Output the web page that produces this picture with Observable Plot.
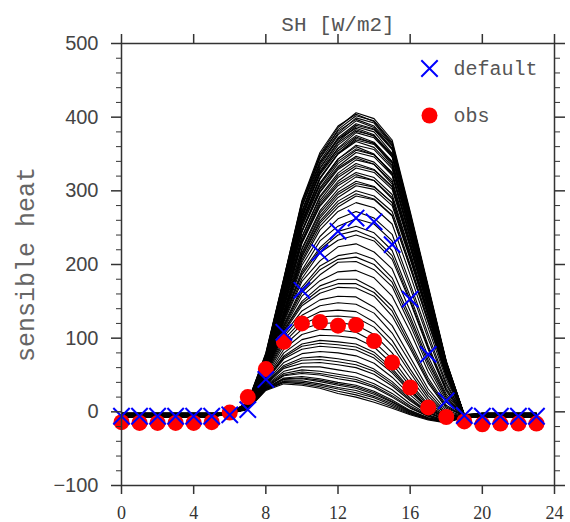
<!DOCTYPE html>
<html>
<head>
<meta charset="utf-8">
<script src="https://cdn.jsdelivr.net/npm/d3@7"></script>
<script src="https://cdn.jsdelivr.net/npm/@observablehq/plot@0.6"></script>
<style>
  html, body { margin: 0; padding: 0; background: #fff; }
  #chart svg { display: block; }
</style>
</head>
<body>
<div id="chart"></div>
<script>
// ---- data ----
const hours = [0,1,2,3,4,5,6,7,8,9,10,11,12,13,14,15,16,17,18,19,20,21,22,23];
const defaultSH = [-6,-6,-6,-6,-6,-6,-4,3,44,108,165,216,245,263,258,227,153,78,15,-5,-6,-6,-6,-6];
const obsSH = [-14,-15,-15,-15,-15,-14,-1,20,58,95,120,122,117,118,96,67,33,6,-7,-13,-17,-16,-16,-16];

// ensemble members: night level (hours 0-5, 20-23)
const memberNight = [-3,-4,-2,-5,-3,-6,-4,-2,-5,-3,-4,-6,-2,-5,-3,-4,-7,-2,-5,-3,-4,-6,-3,-5,-2,-4,-6,-3,-5,-4,-2,-6,-3,-5,-4,-7,-3,-5,-4,-6,-5,-6,-4,-7,-5,-6,-5,-7,-6,-5,-6,-7,-6,-7,-6,-7,
  -4,-5,-3,-6,-2,-5,-4,-3,-6,-5,-4,-6,-3,-5,-4,-6,-5,-7,-6,-5,-6];
// ensemble members: hours 6..19
const memberDay = [
  [-2,12,77,179,284,349,386,406,398,369,272,171,69,-4],
  [-2,13,79,180,283,345,383,402,395,366,270,168,66,-5],
  [-1,11,74,174,279,344,378,399,392,362,268,169,68,-4],
  [-2,12,75,176,278,340,376,395,386,358,264,165,66,-5],
  [-3,12,73,170,273,337,372,391,384,357,263,165,67,-5],
  [-2,12,75,171,272,331,367,387,380,351,258,162,64,-4],
  [-2,11,72,168,267,330,365,383,374,348,258,162,66,-6],
  [-1,11,73,168,266,325,358,379,372,346,253,158,63,-5],
  [-2,11,70,164,262,324,357,375,366,340,250,157,64,-5],
  [-3,10,71,165,259,318,351,371,365,339,250,157,62,-4],
  [-2,11,69,160,258,317,350,367,359,333,245,153,61,-6],
  [-2,11,70,160,252,310,343,362,356,330,244,153,63,-5],
  [-2,10,67,156,251,308,340,357,349,324,238,149,60,-5],
  [-1,11,68,156,245,302,333,352,346,321,237,149,61,-4],
  [-2,10,65,152,244,299,331,347,339,315,231,145,58,-6],
  [-2,10,66,151,238,293,324,342,336,312,230,145,59,-5],
  [-3,10,63,147,237,291,321,337,329,306,225,141,56,-5],
  [-2,10,64,147,231,284,313,331,325,302,223,140,57,-4],
  [-2,9,61,142,229,281,310,325,318,295,217,136,54,-6],
  [-2,10,62,141,222,273,302,319,314,291,215,135,55,-5],
  [-1,9,58,137,220,270,298,313,306,284,209,130,52,-5],
  [-2,9,59,136,214,263,291,307,302,280,207,130,53,-4],
  [-2,9,56,131,211,259,286,300,293,272,200,125,50,-6],
  [-3,9,58,133,206,252,278,293,288,266,196,121,49,-5],
  [-2,9,58,131,203,247,272,284,277,255,186,114,44,-5],
  [-2,9,59,129,199,238,262,272,263,241,174,105,39,-6],
  [-2,9,57,128,192,232,252,262,255,232,168,99,36,-5],
  [-1,9,58,127,189,223,245,252,243,219,157,90,32,-5],
  [-2,9,56,124,181,216,233,240,232,207,149,85,28,-6],
  [-2,9,57,122,177,205,224,228,217,194,137,75,24,-5],
  [-2,8,56,119,169,198,212,216,207,182,129,70,21,-6],
  [-2,8,54,115,162,186,203,204,193,170,118,61,16,-5],
  [-2,8,55,113,157,178,190,192,182,157,109,54,13,-6],
  [-2,8,55,111,150,171,180,180,167,143,95,46,9,-6],
  [-2,8,55,108,144,161,169,168,157,130,86,39,5,-5],
  [-2,8,54,105,137,152,157,156,142,117,74,31,2,-6],
  [-2,7,53,102,131,144,148,146,134,107,67,26,-1,-6],
  [-2,7,52,98,124,136,138,136,122,97,58,22,-3,-7],
  [-2,7,51,94,119,129,130,128,115,90,53,18,-4,-6],
  [-2,7,49,90,112,120,121,118,105,80,46,14,-6,-7],
  [-2,6,47,85,105,112,111,108,95,72,39,10,-7,-6],
  [-2,6,45,80,98,104,103,100,88,65,35,8,-8,-7],
  [-2,6,43,76,92,97,95,92,81,59,31,6,-9,-7],
  [-2,6,42,72,85,89,87,84,73,53,27,4,-9,-6],
  [-2,5,40,67,79,82,80,76,66,47,23,2,-10,-7],
  [-2,5,39,63,73,75,72,68,58,41,19,0,-11,-7],
  [-2,5,37,59,66,67,64,60,51,35,15,-2,-11,-6],
  [-2,5,36,55,61,61,57,53,44,30,11,-4,-12,-7],
  [-2,5,35,52,57,55,51,47,38,25,8,-5,-12,-7],
  [-2,4,33,49,52,50,45,41,33,20,5,-6,-13,-7],
  [-2,4,32,46,48,45,40,36,28,16,2,-8,-13,-7],
  [-2,4,31,44,45,41,36,32,24,13,0,-9,-14,-7],
  [-2,4,31,42,42,38,33,29,21,11,-1,-9,-14,-6],
  [-2,4,30,41,40,36,31,26,19,9,-2,-10,-14,-7],
  [-2,4,30,40,38,34,28,23,16,7,-3,-10,-14,-7],
  [-2,3,29,38,36,32,25,20,13,5,-4,-11,-15,-7],
  [-2,12,78,181,287,352,388,404,394,364,268,168,67,-5],
  [-2,13,80,182,285,348,381,397,388,361,262,163,64,-4],
  [-2,11,72,168,270,334,370,389,383,356,262,165,68,-5],
  [-1,12,76,176,279,338,370,385,376,346,253,158,62,-5],
  [-2,11,71,165,263,327,362,381,375,350,259,163,67,-4],
  [-2,12,74,170,266,322,354,373,364,335,246,154,61,-5],
  [-2,10,68,158,255,316,350,369,363,338,249,156,63,-6],
  [-2,11,71,162,256,311,343,360,350,322,236,147,58,-5],
  [-3,10,66,153,246,304,337,355,349,325,240,151,62,-5],
  [-2,11,68,156,245,298,329,345,336,309,226,141,56,-4],
  [-2,10,62,145,233,287,318,334,328,305,225,142,58,-5],
  [-2,10,63,145,229,279,307,322,314,289,211,132,52,-5],
  [-2,9,57,134,216,266,295,310,305,284,210,132,54,-6],
  [-2,9,58,134,210,256,282,296,289,267,196,122,48,-5],
  [-2,6,43,74,89,93,91,88,77,56,29,5,-9,-7],
  [-2,5,38,61,70,71,68,64,55,38,17,-1,-11,-7],
  [-2,5,34,50,54,52,48,44,35,22,6,-6,-13,-7],
  [-2,4,32,45,46,43,38,34,26,14,1,-8,-13,-7],
  [-2,9,58,126,186,220,240,246,236,212,152,87,30,-5],
  [-2,8,55,117,166,193,207,210,200,176,124,66,19,-6],
  [-2,8,55,110,147,166,174,174,162,137,90,42,7,-6]
];

const xTicks = [0,4,8,12,16,20,24];
const yTicks = [-100,0,100,200,300,400,500];
const yMinor = [-80,-60,-40,-20,20,40,60,80,120,140,160,180,220,240,260,280,320,340,360,380,420,440,460,480];
const titleText = "SH [W/m2]";
const yLabel = "sensible heat";
const legendLabels = ["default", "obs"];

// ---- build table ----
const ensemble = [];
memberDay.forEach((row, i) => {
  hours.forEach(h => {
    ensemble.push({member: i, hour: h, value: (h >= 6 && h <= 19) ? row[h - 6] : memberNight[i]});
  });
});
const points = hours.map((h, i) => ({hour: h, def: defaultSH[i], obs: obsSH[i]}));

const axisColor = "#333";
const mono = "'Liberation Mono', 'DejaVu Sans Mono', monospace";
const blank = () => "";

const chart = Plot.plot({
  width: 570,
  height: 522,
  marginTop: 43,
  marginLeft: 121,
  marginRight: 16,
  marginBottom: 37,
  x: {domain: [0, 24]},
  y: {domain: [-100, 500]},
  style: {background: "white"},
  marks: [
    Plot.lineY(ensemble, {x: "hour", y: "value", z: "member", stroke: "black", strokeWidth: 1.1}),
    Plot.dot(points, {x: "hour", y: "obs", r: 8, fill: "#ff0000"}),
    Plot.dot(points, {x: "hour", y: "def", symbol: "times", r: 7.5, stroke: "#0000ff", strokeWidth: 2}),
    Plot.frame({stroke: axisColor, strokeWidth: 1.5}),
    // left axis
    Plot.axisY(yTicks, {anchor: "left", tickSize: 10, tickPadding: 13, fontSize: 20, fontFamily: "'Liberation Sans', Arial, sans-serif", color: axisColor, fill: "#444", strokeWidth: 1.5, label: null}),
    Plot.axisY(yMinor, {anchor: "left", tickSize: 5, tickFormat: blank, color: axisColor, label: null}),
    // right axis
    Plot.axisY(yTicks, {anchor: "right", tickSize: 10, tickFormat: blank, color: axisColor, strokeWidth: 1.5, label: null}),
    Plot.axisY(yMinor, {anchor: "right", tickSize: 5, tickFormat: blank, color: axisColor, label: null}),
    // bottom / top axes
    Plot.axisX(xTicks, {anchor: "bottom", tickSize: 9, tickPadding: 12, fontSize: 18, fontFamily: "'Liberation Serif', 'Times New Roman', serif", color: axisColor, fill: "#333", strokeWidth: 1.5, label: null}),
    Plot.axisX(xTicks, {anchor: "top", tickSize: 10, tickFormat: blank, color: axisColor, strokeWidth: 1.5, label: null}),
    // title and y label
    Plot.text([titleText], {frameAnchor: "top", dy: -19, lineAnchor: "middle", fontSize: 21, fontFamily: mono, fill: "#555"}),
    Plot.text([yLabel], {frameAnchor: "left", rotate: -90, dx: -96, textAnchor: "middle", lineAnchor: "middle", fontSize: 25, fontFamily: mono, fill: "#666"}),
    // legend
    Plot.dot([legendLabels[0]], {frameAnchor: "top-right", dx: -125, dy: 25, symbol: "times", r: 7.5, stroke: "#0000ff", strokeWidth: 2}),
    Plot.dot([legendLabels[1]], {frameAnchor: "top-right", dx: -125, dy: 72, r: 8, fill: "#ff0000"}),
    Plot.text([legendLabels[0]], {frameAnchor: "top-right", dx: -101, dy: 25, textAnchor: "start", lineAnchor: "middle", fontSize: 20, fontFamily: mono, fill: "#555"}),
    Plot.text([legendLabels[1]], {frameAnchor: "top-right", dx: -101, dy: 72, textAnchor: "start", lineAnchor: "middle", fontSize: 20, fontFamily: mono, fill: "#555"})
  ]
});
document.getElementById("chart").appendChild(chart);
</script>
</body>
</html>
